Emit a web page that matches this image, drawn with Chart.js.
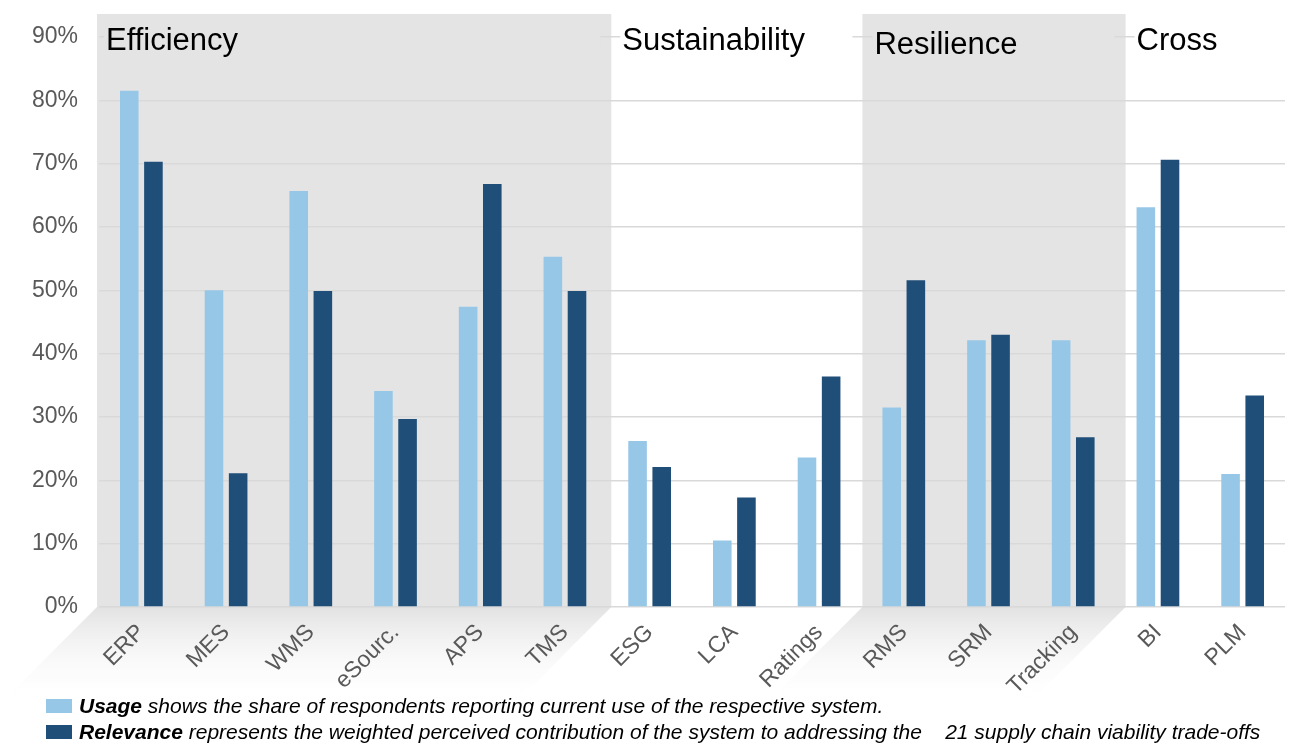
<!DOCTYPE html>
<html>
<head>
<meta charset="utf-8">
<script src="https://cdn.jsdelivr.net/npm/chart.js@4"></script>
<style>
  body { margin: 0; background: #fff; }
  #wrap { position: relative; width: 1298px; height: 745px; }
  .leg { position: absolute; font: italic 21px/24px 'Liberation Sans', Arial, sans-serif; color: #000; white-space: pre; }
  .leg b { font-weight: bold; }
  .sq { position: absolute; left: 46px; width: 26px; height: 14px; }
</style>
</head>
<body>
<div id="wrap">
  <canvas id="chart"></canvas>
  <div class="sq" style="top:699px;background:#97c7e7"></div>
  <div class="leg" style="left:79px;top:694px"><b>Usage</b> shows the share of respondents reporting current use of the respective system.</div>
  <div class="sq" style="top:725px;background:#1f4e79"></div>
  <div class="leg" style="left:79px;top:720px"><b>Relevance</b> represents the weighted perceived contribution of the system to addressing the    21 supply chain viability trade-offs</div>
</div>
<script>
// ── Données ───────────────────────────────────────────────────────────
const CATEGORIES = ["ERP","MES","WMS","eSourc.","APS","TMS","ESG","LCA","Ratings","RMS","SRM","Tracking","BI","PLM"];
const USAGE      = [81.5, 50.0, 65.7, 34.1, 47.4, 55.3, 26.2, 10.5, 23.6, 31.5, 42.1, 42.1, 63.1, 21.0];
const RELEVANCE  = [70.3, 21.1, 49.9, 29.7, 66.8, 49.9, 22.1, 17.3, 36.4, 51.6, 43.0, 26.8, 70.6, 33.4];
const Y_TICKS    = [0, 10, 20, 30, 40, 50, 60, 70, 80, 90];

// groupes (indices de catégories)
const GROUP_NAMES  = ["Efficiency", "Sustainability", "Resilience", "Cross"];
const GROUP_FIRST  = [0, 6, 9, 12];
const GROUP_LAST   = [5, 8, 11, 13];
const GROUP_SHADED = [true, false, true, false];

// mise en page des bandeaux (pas des données)
const PANEL_PAD = [[-2, 4], [0, 0], [1, 10], [0, 0]];
const LABEL_DX  = [7, 15, 13, 21];
const LABEL_BASE = [50, 50, 54, 50];

const PANEL = "#e4e4e4";
const LIGHT = "#97c7e7";
const DARK  = "#1f4e79";
const FONT  = "'Liberation Sans', Arial, sans-serif";

const groupPlugin = {
  id: "groups",
  beforeDraw(chart) {
    const { ctx, chartArea: ca, scales: { x } } = chart;
    const half = (x.getPixelForValue(1) - x.getPixelForValue(0)) / 2;
    ctx.save();
    GROUP_NAMES.forEach((_, g) => {
      if (!GROUP_SHADED[g]) return;
      const l = x.getPixelForValue(GROUP_FIRST[g]) - half + PANEL_PAD[g][0];
      const r = x.getPixelForValue(GROUP_LAST[g]) + half + PANEL_PAD[g][1];
      ctx.fillStyle = PANEL;
      ctx.fillRect(l, 14, r - l, ca.bottom - 14);
      // bandeau incliné sous l'axe
      const h = 98;
      const grad = ctx.createLinearGradient(0, ca.bottom, 0, ca.bottom + h);
      grad.addColorStop(0, "#e2e2e2");
      grad.addColorStop(1, "rgba(255,255,255,0)");
      ctx.fillStyle = grad;
      ctx.beginPath();
      ctx.moveTo(l, ca.bottom);
      ctx.lineTo(r, ca.bottom);
      ctx.lineTo(r - h, ca.bottom + h);
      ctx.lineTo(l - h, ca.bottom + h);
      ctx.closePath();
      ctx.fill();
    });
    ctx.restore();
  },
  afterDatasetsDraw(chart) {
    const { ctx, chartArea: ca, scales: { x } } = chart;
    const half = (x.getPixelForValue(1) - x.getPixelForValue(0)) / 2;
    const tx = GROUP_NAMES.map((_, g) => x.getPixelForValue(GROUP_FIRST[g]) - half + LABEL_DX[g]);
    ctx.save();
    ctx.font = "31px " + FONT;
    ctx.textBaseline = "alphabetic";
    GROUP_NAMES.forEach((name, g) => {
      const boxEnd = g < GROUP_NAMES.length - 1 ? tx[g + 1] - 22 : ca.right + 2;
      ctx.fillStyle = GROUP_SHADED[g] ? PANEL : "#fff";
      ctx.fillRect(tx[g] - 2, 28, boxEnd - tx[g] + 2, 20);
      ctx.fillStyle = "#000";
      ctx.fillText(name, tx[g], LABEL_BASE[g]);
    });
    ctx.restore();
  }
};

new Chart(document.getElementById("chart"), {
  type: "bar",
  data: {
    labels: CATEGORIES,
    datasets: [
      { label: "Usage", data: USAGE, backgroundColor: LIGHT, categoryPercentage: 0.57, barPercentage: 0.77 },
      { label: "Relevance", data: RELEVANCE, backgroundColor: DARK, categoryPercentage: 0.57, barPercentage: 0.77 },
    ]
  },
  options: {
    responsive: true, maintainAspectRatio: false, animation: false,
    layout: { padding: { top: 37, right: 13, left: 0, bottom: 0 } },
    plugins: { legend: { display: false }, tooltip: { enabled: false } },
    scales: {
      x: {
        grid: { display: false },
        border: { display: false },
        ticks: {
          autoSkip: false, minRotation: 45, maxRotation: 45, padding: 4,
          color: "#595959", font: { family: FONT, size: 23 }
        },
        afterFit: s => { s.height = 138; }
      },
      y: {
        min: 0, max: 90,
        afterBuildTicks: s => { s.ticks = Y_TICKS.map(v => ({ value: v })); },
        grid: { color: "#d9d9d9", lineWidth: 1.5, drawTicks: false },
        border: { display: false },
        ticks: {
          padding: 21, color: "#595959", font: { family: FONT, size: 23 },
          callback: v => v + "%"
        },
        afterFit: s => { s.width = 99; }
      }
    }
  },
  plugins: [groupPlugin]
});
</script>
</body>
</html>
